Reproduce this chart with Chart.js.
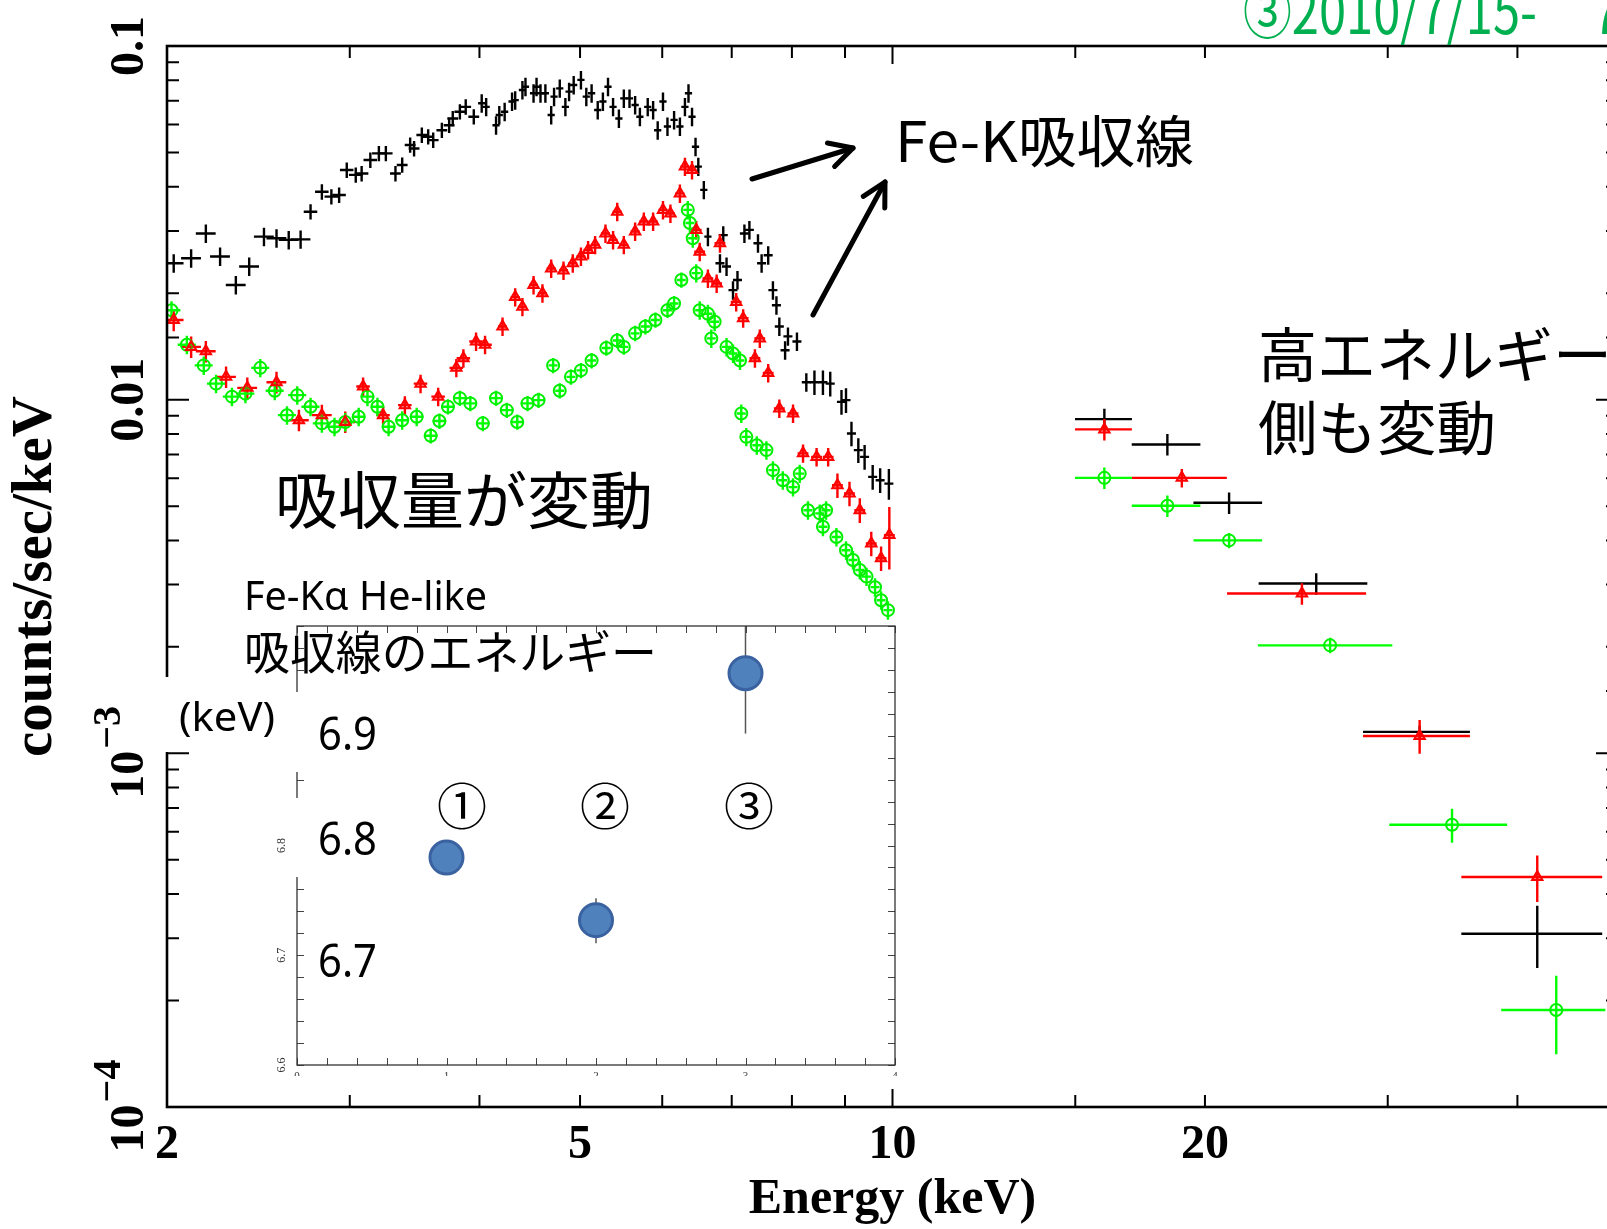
<!DOCTYPE html>
<html>
<head>
<meta charset="utf-8">
<script src="https://cdn.jsdelivr.net/npm/chart.js@4.4.1/dist/chart.umd.min.js"></script>
<style>
  html, body { margin: 0; padding: 0; background: #fff; overflow: hidden; width: 1607px; height: 1229px; }
  #main { position: absolute; left: 0; top: 0; width: 1640px; height: 1229px; }
  #inset { position: absolute; left: 250px; top: 596px; width: 660px; height: 480px; }
  #notes { position: absolute; left: 0; top: 0; }
  .jp { font-family: "Noto Sans CJK JP", sans-serif; }
  .lat { font-family: "Noto Sans", "Noto Sans CJK JP", sans-serif; }
</style>
</head>
<body>
<div id="main"><canvas id="mainChart"></canvas></div>
<div id="inset"><canvas id="insetChart"></canvas></div>

<svg id="notes" width="1607" height="1229" xmlns="http://www.w3.org/2000/svg">
  <rect x="157" y="677" width="133" height="75" fill="#fff"/>
  <rect x="288" y="692" width="97" height="80" fill="#fff"/>
  <rect x="288" y="798" width="97" height="79" fill="#fff"/>

  <text class="jp" x="1243" y="34" font-size="61" fill="#00b050" textLength="294" lengthAdjust="spacingAndGlyphs">③2010/7/15-</text>
  <text class="jp" x="1590" y="34" font-size="61" fill="#00b050">7</text>

  <text class="jp" x="895" y="162" font-size="56" textLength="299" lengthAdjust="spacingAndGlyphs">Fe-K吸収線</text>
  <text class="jp" x="275" y="524" font-size="62" textLength="378" lengthAdjust="spacingAndGlyphs">吸収量が変動</text>
  <text class="jp" x="1258" y="377" font-size="59">高エネルギー</text>
  <text class="jp" x="1258" y="450" font-size="59" textLength="238" lengthAdjust="spacingAndGlyphs">側も変動</text>

  <text class="lat" x="244" y="610" font-size="40" textLength="243" lengthAdjust="spacingAndGlyphs">Fe-Kα He-like</text>
  <text class="jp" x="244" y="669" font-size="46" textLength="413" lengthAdjust="spacingAndGlyphs">吸収線のエネルギー</text>
  <text class="lat" x="179" y="731" font-size="40" textLength="96" lengthAdjust="spacingAndGlyphs">(keV)</text>
  <text class="lat" x="318" y="750" font-size="46" textLength="59" lengthAdjust="spacingAndGlyphs">6.9</text>
  <text class="lat" x="318" y="855" font-size="46" textLength="59" lengthAdjust="spacingAndGlyphs">6.8</text>
  <text class="lat" x="318" y="977" font-size="46" textLength="59" lengthAdjust="spacingAndGlyphs">6.7</text>
  <text class="jp" x="462" y="825" font-size="50" text-anchor="middle">①</text>
  <text class="jp" x="605" y="825" font-size="50" text-anchor="middle">②</text>
  <text class="jp" x="749" y="825" font-size="50" text-anchor="middle">③</text>

  <g stroke="#000" stroke-width="5" fill="none" stroke-linecap="round" stroke-linejoin="round">
    <line x1="752" y1="179" x2="853" y2="148"/>
    <polyline points="827.5,143 853,148 834.6,166.4"/>
    <line x1="813" y1="315" x2="885" y2="182"/>
    <polyline points="863.3,196.4 885,182 884.8,208"/>
  </g>
</svg>

<script>
// ---- spectrum data: energy (keV), rate (counts/sec/keV), half bin width (%), rate error (%) ----
const blackE = [2.03, 2.11, 2.18, 2.25, 2.33, 2.40, 2.48, 2.55, 2.62, 2.69,
  2.75, 2.82, 2.88, 2.93, 2.98, 3.04, 3.08, 3.14, 3.20, 3.25,
  3.32, 3.37, 3.43, 3.46, 3.52, 3.57, 3.61, 3.68, 3.74, 3.77, 3.83, 3.88, 3.95,
  4.02, 4.06, 4.15, 4.18, 4.23, 4.30, 4.33, 4.40, 4.43, 4.51, 4.54, 4.58, 4.63, 4.69, 4.72,
  4.78, 4.84, 4.88, 4.93, 5.01, 5.07, 5.13, 5.20, 5.26, 5.32, 5.38, 5.45, 5.51, 5.58, 5.65,
  5.71, 5.81, 5.88, 5.94, 6.01, 6.07, 6.16, 6.24, 6.31, 6.36, 6.41, 6.46, 6.50, 6.58, 6.64,
  6.82, 6.87, 6.92, 7.02, 7.09, 7.20, 7.28, 7.42, 7.48, 7.59, 7.67, 7.73, 7.78, 7.88,
  7.93, 8.09, 8.26, 8.41, 8.57, 8.71, 8.93, 9.02, 9.13, 9.27, 9.40, 9.57, 9.73, 9.92,
  16.0, 18.4, 21.1, 25.6, 32.2, 41.8];
const blackRate = [0.0243, 0.0251, 0.0295, 0.0254, 0.0211, 0.0238, 0.0289, 0.0286, 0.0283, 0.0284,
  0.0340, 0.0387, 0.0375, 0.0379, 0.0446, 0.0432, 0.0436, 0.0476, 0.0497, 0.0497,
  0.0436, 0.0461, 0.0525, 0.0513, 0.0560, 0.0554, 0.0542, 0.0578, 0.0597, 0.0624, 0.0652, 0.0673, 0.0631,
  0.0689, 0.0673, 0.0597, 0.0638, 0.0652, 0.0697, 0.0703, 0.0751, 0.0767, 0.0735, 0.0767, 0.0735, 0.0735, 0.0638, 0.0719,
  0.0759, 0.0673, 0.0743, 0.0776, 0.0802, 0.0719, 0.0735, 0.0659, 0.0697, 0.0767, 0.0673, 0.0624, 0.0711, 0.0711, 0.0681,
  0.0631, 0.0673, 0.0659, 0.0578, 0.0697, 0.0592, 0.0618, 0.0592, 0.0673, 0.0735, 0.0631, 0.0519, 0.0456, 0.0392, 0.0289,
  0.0243, 0.0292, 0.0238, 0.0204, 0.0218, 0.0295, 0.0302, 0.0277, 0.0243, 0.0256, 0.0204, 0.0185, 0.0161, 0.0138,
  0.0151, 0.0146, 0.0112, 0.0112, 0.0112, 0.0111, 0.00986, 0.00997, 0.00802, 0.00720, 0.00689, 0.00605, 0.00592, 0.00579,
  0.00881, 0.00747, 0.00511, 0.00302, 0.00115, 0.000309];
const blackErrE = [2.2, 2.2, 2.2, 2.2, 2.2, 2.2, 2.2, 2.2, 2.2, 2.2,
  1.5, 1.5, 1.5, 1.5, 1.5, 1.5, 1.5, 1.5, 1.5, 1.5,
  1.2, 1.2, 1.2, 1.2, 1.2, 1.2, 1.2, 1.2, 1.2, 1.2, 1.2, 1.2, 1.2,
  0.8, 0.8, 0.8, 0.8, 0.8, 0.8, 0.8, 0.8, 0.8, 0.8, 0.8, 0.8, 0.8, 0.8, 0.8,
  0.8, 0.8, 0.8, 0.8, 0.8, 0.8, 0.8, 0.8, 0.8, 0.8, 0.8, 0.8, 0.8, 0.8, 0.8,
  0.8, 0.8, 0.8, 0.8, 0.8, 0.8, 0.8, 0.8, 0.8, 0.8, 0.8, 0.8, 0.8, 0.8, 0.8,
  1.0, 1.0, 1.0, 1.0, 1.0, 1.0, 1.0, 1.0, 1.0, 1.0, 1.0, 1.0, 1.0, 1.0,
  1.0, 1.0, 1.0, 1.0, 1.0, 1.0, 1.0, 1.0, 1.0, 1.0, 1.0, 1.0, 1.0, 1.0,
  6.3, 7.6, 7.6, 12, 11.8, 15.5];
const blackErrRate = [6, 6, 6, 6, 6, 6, 6, 6, 6, 6,
  5, 5, 5, 5, 5, 5, 5, 5, 5, 5,
  5, 5, 5, 5, 5, 5, 5, 5, 5, 5, 5, 5, 5,
  6, 6, 6, 6, 6, 6, 6, 6, 6, 6, 6, 6, 6, 6, 6,
  6, 6, 6, 6, 6, 6, 6, 6, 6, 6, 6, 6, 6, 6, 6,
  6, 6, 6, 6, 6, 6, 6, 6, 6, 6, 6, 6, 6, 6, 6,
  6, 6, 6, 6, 6, 6, 6, 6, 6, 6, 6, 6, 6, 6,
  6, 6, 6, 8, 8, 8, 8, 8, 8, 8, 8, 8, 8, 10,
  7, 7, 7, 7, 4, 20];

const redE = [2.03, 2.11, 2.18, 2.28, 2.39, 2.55, 2.68, 2.82, 2.97,
  3.09, 3.23, 3.39, 3.51, 3.65, 3.80, 3.86, 3.97, 4.05,
  4.21, 4.33, 4.40, 4.51, 4.60, 4.69, 4.82, 4.92, 5.01, 5.09, 5.17, 5.29,
  5.38, 5.43, 5.51, 5.65, 5.76, 5.88, 6.01, 6.11, 6.24, 6.31, 6.41,
  6.47, 6.52, 6.64, 6.77, 6.82, 7.07, 7.18, 7.37, 7.45, 7.59, 7.78,
  8.02, 8.20, 8.45, 8.67, 8.85, 9.09, 9.30, 9.54, 9.75, 9.93,
  16.0, 19.0, 24.8, 32.2, 41.8];
const redRate = [0.0168, 0.0141, 0.0137, 0.0116, 0.0108, 0.0112, 0.00875, 0.00904, 0.00865,
  0.0109, 0.00904, 0.00965, 0.0111, 0.0102, 0.0123, 0.0131, 0.0146, 0.0143,
  0.0161, 0.0195, 0.0183, 0.0211, 0.0200, 0.0235, 0.0232, 0.0243, 0.0254, 0.0265, 0.0274, 0.0295,
  0.0283, 0.0340, 0.0274, 0.0299, 0.0319, 0.0319, 0.0344, 0.0336, 0.0383, 0.0456, 0.0446,
  0.0302, 0.0262, 0.0220, 0.0213, 0.0277, 0.0189, 0.0170, 0.0131, 0.0149, 0.0119, 0.00944,
  0.00914, 0.00705, 0.00689, 0.00689, 0.00573, 0.00543, 0.00487, 0.00392, 0.00356, 0.00414,
  0.00824, 0.00601, 0.00283, 0.00112, 0.000447];
const redErrE = [2.2, 2.2, 2.2, 2.2, 2.2, 2.2, 2.2, 2.2, 2.2,
  1.5, 1.5, 1.5, 1.5, 1.5, 1.5, 1.5, 1.5, 1.5,
  1.0, 1.0, 1.0, 1.0, 1.0, 1.0, 1.0, 1.0, 1.0, 1.0, 1.0, 1.0,
  1.0, 1.0, 1.0, 1.0, 1.0, 1.0, 1.0, 1.0, 1.0, 1.0, 1.0,
  1.2, 1.2, 1.2, 1.2, 1.2, 1.2, 1.2, 1.2, 1.2, 1.2, 1.2,
  1.2, 1.2, 1.2, 1.2, 1.2, 1.2, 1.2, 1.2, 1.2, 1.2,
  6.3, 10.5, 15.3, 11.8, 15.5];
const redErrRate = [7, 7, 7, 7, 7, 7, 7, 7, 7,
  6, 6, 6, 6, 6, 6, 6, 6, 6,
  6, 6, 6, 6, 6, 6, 6, 6, 6, 6, 6, 6,
  6, 6, 6, 6, 6, 6, 6, 6, 6, 6, 6,
  6, 6, 6, 6, 6, 6, 6, 6, 6, 6, 6,
  6, 6, 6, 6, 8, 8, 8, 8, 8, 20,
  7, 6, 7, 11, 15];

const greenE = [2.02, 2.09, 2.17, 2.23, 2.31, 2.38, 2.46, 2.54, 2.61, 2.67, 2.75, 2.82, 2.90, 2.97,
  3.06, 3.12, 3.19, 3.27, 3.37, 3.48, 3.59, 3.66, 3.73, 3.83, 3.92, 4.03, 4.15, 4.25, 4.35, 4.45, 4.56,
  4.71, 4.78, 4.90, 5.01, 5.13, 5.30, 5.43, 5.51, 5.65, 5.78, 5.91, 6.07, 6.16, 6.26,
  6.35, 6.38, 6.42, 6.47, 6.52, 6.64, 6.69, 6.74, 6.92, 7.02, 7.13, 7.15, 7.23, 7.40, 7.56,
  7.67, 7.84, 8.02, 8.14, 8.29, 8.51, 8.57, 8.63, 8.83, 9.02, 9.16, 9.30, 9.44, 9.62, 9.75, 9.90,
  16.0, 18.4, 21.1, 26.4, 34.6, 43.6];
const greenRate = [0.0179, 0.0143, 0.0125, 0.0111, 0.0102, 0.0104, 0.0123, 0.0106, 0.00904, 0.0103, 0.00955, 0.00857, 0.00838, 0.00865,
  0.00895, 0.0102, 0.00955, 0.00838, 0.00875, 0.00895, 0.00791, 0.0087, 0.00955, 0.0101, 0.00976, 0.00857, 0.0101, 0.00934, 0.00865, 0.00976, 0.00997,
  0.0125, 0.0106, 0.0116, 0.0121, 0.0129, 0.0140, 0.0147, 0.0141, 0.0154, 0.0161, 0.0168, 0.0179, 0.0187, 0.0218,
  0.0344, 0.0316, 0.0286, 0.0228, 0.0179, 0.0175, 0.0149, 0.0166, 0.0141, 0.0135, 0.0129, 0.00914, 0.00785, 0.00743, 0.00720,
  0.00632, 0.00592, 0.00566, 0.00618, 0.00487, 0.00477, 0.00437, 0.00487, 0.00409, 0.00375, 0.00352, 0.00330, 0.00316, 0.00295, 0.00271, 0.00254,
  0.00601, 0.00501, 0.00400, 0.00202, 0.000628, 0.000188];
const greenErrE = [2.0, 2.0, 2.0, 2.0, 2.0, 2.0, 2.0, 2.0, 2.0, 2.0, 2.0, 2.0, 2.0, 2.0,
  1.5, 1.5, 1.5, 1.5, 1.5, 1.5, 1.5, 1.5, 1.5, 1.5, 1.5, 1.5, 1.5, 1.5, 1.5, 1.5, 1.5,
  1.0, 1.0, 1.0, 1.0, 1.0, 1.0, 1.0, 1.0, 1.0, 1.0, 1.0, 1.0, 1.0, 1.0,
  1.0, 1.0, 1.0, 1.0, 1.0, 1.0, 1.0, 1.0, 1.0, 1.0, 1.0, 1.0, 1.0, 1.0, 1.0,
  1.0, 1.0, 1.0, 1.0, 1.0, 1.0, 1.0, 1.0, 1.0, 1.0, 1.0, 1.0, 1.0, 1.0, 1.0, 1.0,
  6.3, 7.6, 7.6, 14.8, 13, 11.5];
const greenErrRate = [6, 6, 6, 6, 6, 6, 6, 6, 6, 6, 6, 6, 6, 6,
  6, 6, 6, 6, 6, 6, 5, 5, 5, 5, 5, 5, 5, 5, 5, 5, 5,
  5, 5, 5, 5, 5, 5, 5, 5, 5, 5, 5, 5, 5, 5,
  6, 6, 6, 6, 6, 6, 6, 6, 6, 6, 6, 6, 6, 6, 6,
  6, 6, 6, 6, 6, 6, 6, 6, 6, 6, 6, 6, 6, 6, 6, 6,
  7, 7, 5, 5, 11, 25];

// axis labels
const xTickLabels = [2, 5, 10, 20];
const yLabelValues = [0.1, 0.01, 0.001, 0.0001];
const yLabelText = ['0.1', '0.01', ['10', '\u22123'], ['10', '\u22124']];

// ---- inset: Fe-K alpha He-like absorption line energy per observation ----
const insetObs = [1, 2, 3];
const insetLineE = [6.789, 6.732, 6.957];
const insetErrLo = [0.013, 0.021, 0.055];
const insetErrHi = [0.013, 0.02, 0.06];
const insetYLabels = [6.6, 6.7, 6.8];
const insetXLabels = [0, 1, 2, 3, 4];

function toPoints(E, R, dE, dR) {
  return E.map((e, i) => ({
    x: e,
    y: R[i],
    xMin: e * (1 - dE[i] / 100),
    xMax: e * (1 + dE[i] / 100),
    yMin: R[i] * (1 - dR[i] / 100),
    yMax: R[i] * (1 + dR[i] / 100),
  }));
}

const isDecade = (v) => Math.abs(Math.log10(v) - Math.round(Math.log10(v))) < 1e-6;
const serif = '"Liberation Serif", "Times New Roman", serif';

const errorBars = {
  id: 'errorBars',
  beforeDatasetsDraw(chart) {
    const { ctx, chartArea: a, scales: { x, y } } = chart;
    ctx.save();
    ctx.beginPath();
    ctx.rect(a.left, a.top, a.right - a.left, a.bottom - a.top);
    ctx.clip();
    chart.data.datasets.forEach((ds) => {
      ctx.strokeStyle = ds.barColor;
      ctx.lineWidth = ds.barWidth || 2;
      ds.data.forEach((p) => {
        const px = x.getPixelForValue(p.x);
        const py = y.getPixelForValue(p.y);
        ctx.beginPath();
        if (p.xMin !== undefined) {
          ctx.moveTo(x.getPixelForValue(p.xMin), py);
          ctx.lineTo(x.getPixelForValue(p.xMax), py);
        }
        ctx.moveTo(px, y.getPixelForValue(p.yMin));
        ctx.lineTo(px, y.getPixelForValue(p.yMax));
        ctx.stroke();
      });
    });
    ctx.restore();
  },
};

const mainFrame = {
  id: 'mainFrame',
  afterDraw(chart) {
    const { ctx, chartArea: a, scales: { x, y } } = chart;
    ctx.save();
    ctx.strokeStyle = '#000';
    ctx.lineWidth = 2;
    ctx.beginPath();
    x.ticks.forEach((t) => {
      const px = x.getPixelForValue(t.value);
      const len = isDecade(t.value) ? 18 : 12;
      ctx.moveTo(px, a.bottom); ctx.lineTo(px, a.bottom - len);
      ctx.moveTo(px, a.top); ctx.lineTo(px, a.top + len);
    });
    y.ticks.forEach((t) => {
      const py = y.getPixelForValue(t.value);
      const len = isDecade(t.value) ? 22 : 12;
      ctx.moveTo(a.left, py); ctx.lineTo(a.left + len, py);
      ctx.moveTo(a.right, py); ctx.lineTo(a.right - len, py);
    });
    ctx.stroke();
    ctx.lineWidth = 2.6;
    ctx.strokeRect(a.left, a.top, a.right - a.left, a.bottom - a.top);

    // rotated y tick labels
    ctx.fillStyle = '#000';
    ctx.textBaseline = 'alphabetic';
    ctx.textAlign = 'left';
    yLabelValues.forEach((v, i) => {
      const py = y.getPixelForValue(v);
      const lab = yLabelText[i];
      ctx.save();
      ctx.translate(a.left - 24, py);
      ctx.rotate(-Math.PI / 2);
      ctx.font = 'bold 48px ' + serif;
      if (Array.isArray(lab)) {
        const wb = ctx.measureText(lab[0]).width;
        ctx.font = 'bold 40px ' + serif;
        const ws = ctx.measureText(lab[1]).width;
        const start = -(wb + ws) / 2;
        ctx.fillText(lab[1], start + wb + 2, -23);
        ctx.font = 'bold 48px ' + serif;
        ctx.fillText(lab[0], start, 0);
      } else {
        const w = ctx.measureText(lab).width;
        ctx.fillText(lab, -w / 2, 0);
      }
      ctx.restore();
    });
    ctx.restore();
  },
};

new Chart(document.getElementById('mainChart'), {
  type: 'scatter',
  data: {
    datasets: [
      { label: 'obs1', data: toPoints(blackE, blackRate, blackErrE, blackErrRate), barColor: '#000', barWidth: 2.4,
        pointRadius: 0, pointHoverRadius: 0, borderColor: '#000' },
      { label: 'obs2', data: toPoints(redE, redRate, redErrE, redErrRate), barColor: '#ff0000', barWidth: 2.4,
        pointStyle: 'triangle', pointRadius: 6, borderWidth: 2, borderColor: '#ff0000', backgroundColor: 'rgba(255,0,0,0.35)' },
      { label: 'obs3', data: toPoints(greenE, greenRate, greenErrE, greenErrRate), barColor: '#00ff00', barWidth: 2.4,
        pointStyle: 'circle', pointRadius: 6, borderWidth: 2, borderColor: '#00ee00', backgroundColor: 'rgba(0,0,0,0)' },
    ],
  },
  options: {
    responsive: true,
    maintainAspectRatio: false,
    animation: false,
    layout: { padding: { top: 46, right: 22, left: 0, bottom: 0 } },
    plugins: { legend: { display: false }, tooltip: { enabled: false } },
    scales: {
      x: {
        type: 'logarithmic',
        min: 2,
        max: 50,
        grid: { display: false, drawTicks: false },
        border: { display: false },
        ticks: {
          autoSkip: false,
          maxRotation: 0,
          padding: 15,
          color: '#000',
          font: { family: serif, weight: 'bold', size: 48, lineHeight: 1 },
          callback: (v) => (xTickLabels.some((t) => Math.abs(t - v) < 1e-6) ? String(Math.round(v)) : ''),
        },
        title: {
          display: true,
          text: 'Energy (keV)',
          color: '#000',
          font: { family: serif, weight: 'bold', size: 50, lineHeight: 1 },
          padding: { top: 0, bottom: 4 },
        },
        afterFit: (s) => { s.height = 122; },
      },
      y: {
        type: 'logarithmic',
        min: 0.0001,
        max: 0.1,
        grid: { display: false, drawTicks: false },
        border: { display: false },
        ticks: { display: false },
        title: {
          display: true,
          text: 'counts/sec/keV',
          color: '#000',
          font: { family: serif, weight: 'bold', size: 57, lineHeight: 1 },
          padding: { top: 8, bottom: 0 },
        },
        afterFit: (s) => { s.width = 167; },
      },
    },
  },
  plugins: [errorBars, mainFrame],
});

const insetFrame = {
  id: 'insetFrame',
  beforeDraw(chart) {
    const { ctx, chartArea: a } = chart;
    ctx.save();
    ctx.fillStyle = '#fff';
    ctx.fillRect(18, a.top, a.right - 18, chart.height - a.top);
    ctx.restore();
  },
  afterDraw(chart) {
    const { ctx, chartArea: a, scales: { x, y } } = chart;
    ctx.save();
    ctx.strokeStyle = '#444';
    ctx.lineWidth = 1;
    ctx.beginPath();
    x.ticks.forEach((t) => {
      const px = Math.round(x.getPixelForValue(t.value)) + 0.5;
      ctx.moveTo(px, a.bottom); ctx.lineTo(px, a.bottom - 7);
      ctx.moveTo(px, a.top); ctx.lineTo(px, a.top + 7);
    });
    y.ticks.forEach((t) => {
      const py = Math.round(y.getPixelForValue(t.value)) + 0.5;
      ctx.moveTo(a.left, py); ctx.lineTo(a.left + 7, py);
      ctx.moveTo(a.right, py); ctx.lineTo(a.right - 7, py);
    });
    ctx.stroke();
    ctx.lineWidth = 1.3;
    ctx.strokeStyle = '#333';
    ctx.strokeRect(a.left, a.top, a.right - a.left, a.bottom - a.top);

    ctx.fillStyle = '#333';
    ctx.font = '12px ' + serif;
    ctx.textAlign = 'center';
    ctx.textBaseline = 'alphabetic';
    insetYLabels.forEach((v) => {
      ctx.save();
      ctx.translate(a.left - 12, y.getPixelForValue(v));
      ctx.rotate(-Math.PI / 2);
      ctx.fillText(v.toFixed(1), 0, 0);
      ctx.restore();
    });
    ctx.textBaseline = 'top';
    ctx.font = '11px ' + serif;
    insetXLabels.forEach((v) => {
      ctx.fillText(String(v), x.getPixelForValue(v), a.bottom + 6);
    });
    ctx.restore();
  },
};

new Chart(document.getElementById('insetChart'), {
  type: 'scatter',
  data: {
    datasets: [{
      label: 'Fe-K line energy',
      data: insetObs.map((o, i) => ({ x: o, y: insetLineE[i], yMin: insetLineE[i] - insetErrLo[i], yMax: insetLineE[i] + insetErrHi[i] })),
      barColor: '#555',
      barWidth: 1.5,
      pointStyle: 'circle',
      pointRadius: 16.5,
      pointHoverRadius: 16.5,
      borderWidth: 3,
      borderColor: '#3a62a0',
      backgroundColor: '#4f81bd',
    }],
  },
  options: {
    responsive: true,
    maintainAspectRatio: false,
    animation: false,
    layout: { autoPadding: false, padding: { top: 30, right: 15, left: 47, bottom: 11 } },
    plugins: { legend: { display: false }, tooltip: { enabled: false } },
    scales: {
      x: { type: 'linear', display: false, min: 0, max: 4, ticks: { stepSize: 0.2 } },
      y: { type: 'linear', display: false, min: 6.6, max: 7.0, ticks: { stepSize: 0.02 } },
    },
  },
  plugins: [insetFrame, errorBars],
});
</script>
</body>
</html>
